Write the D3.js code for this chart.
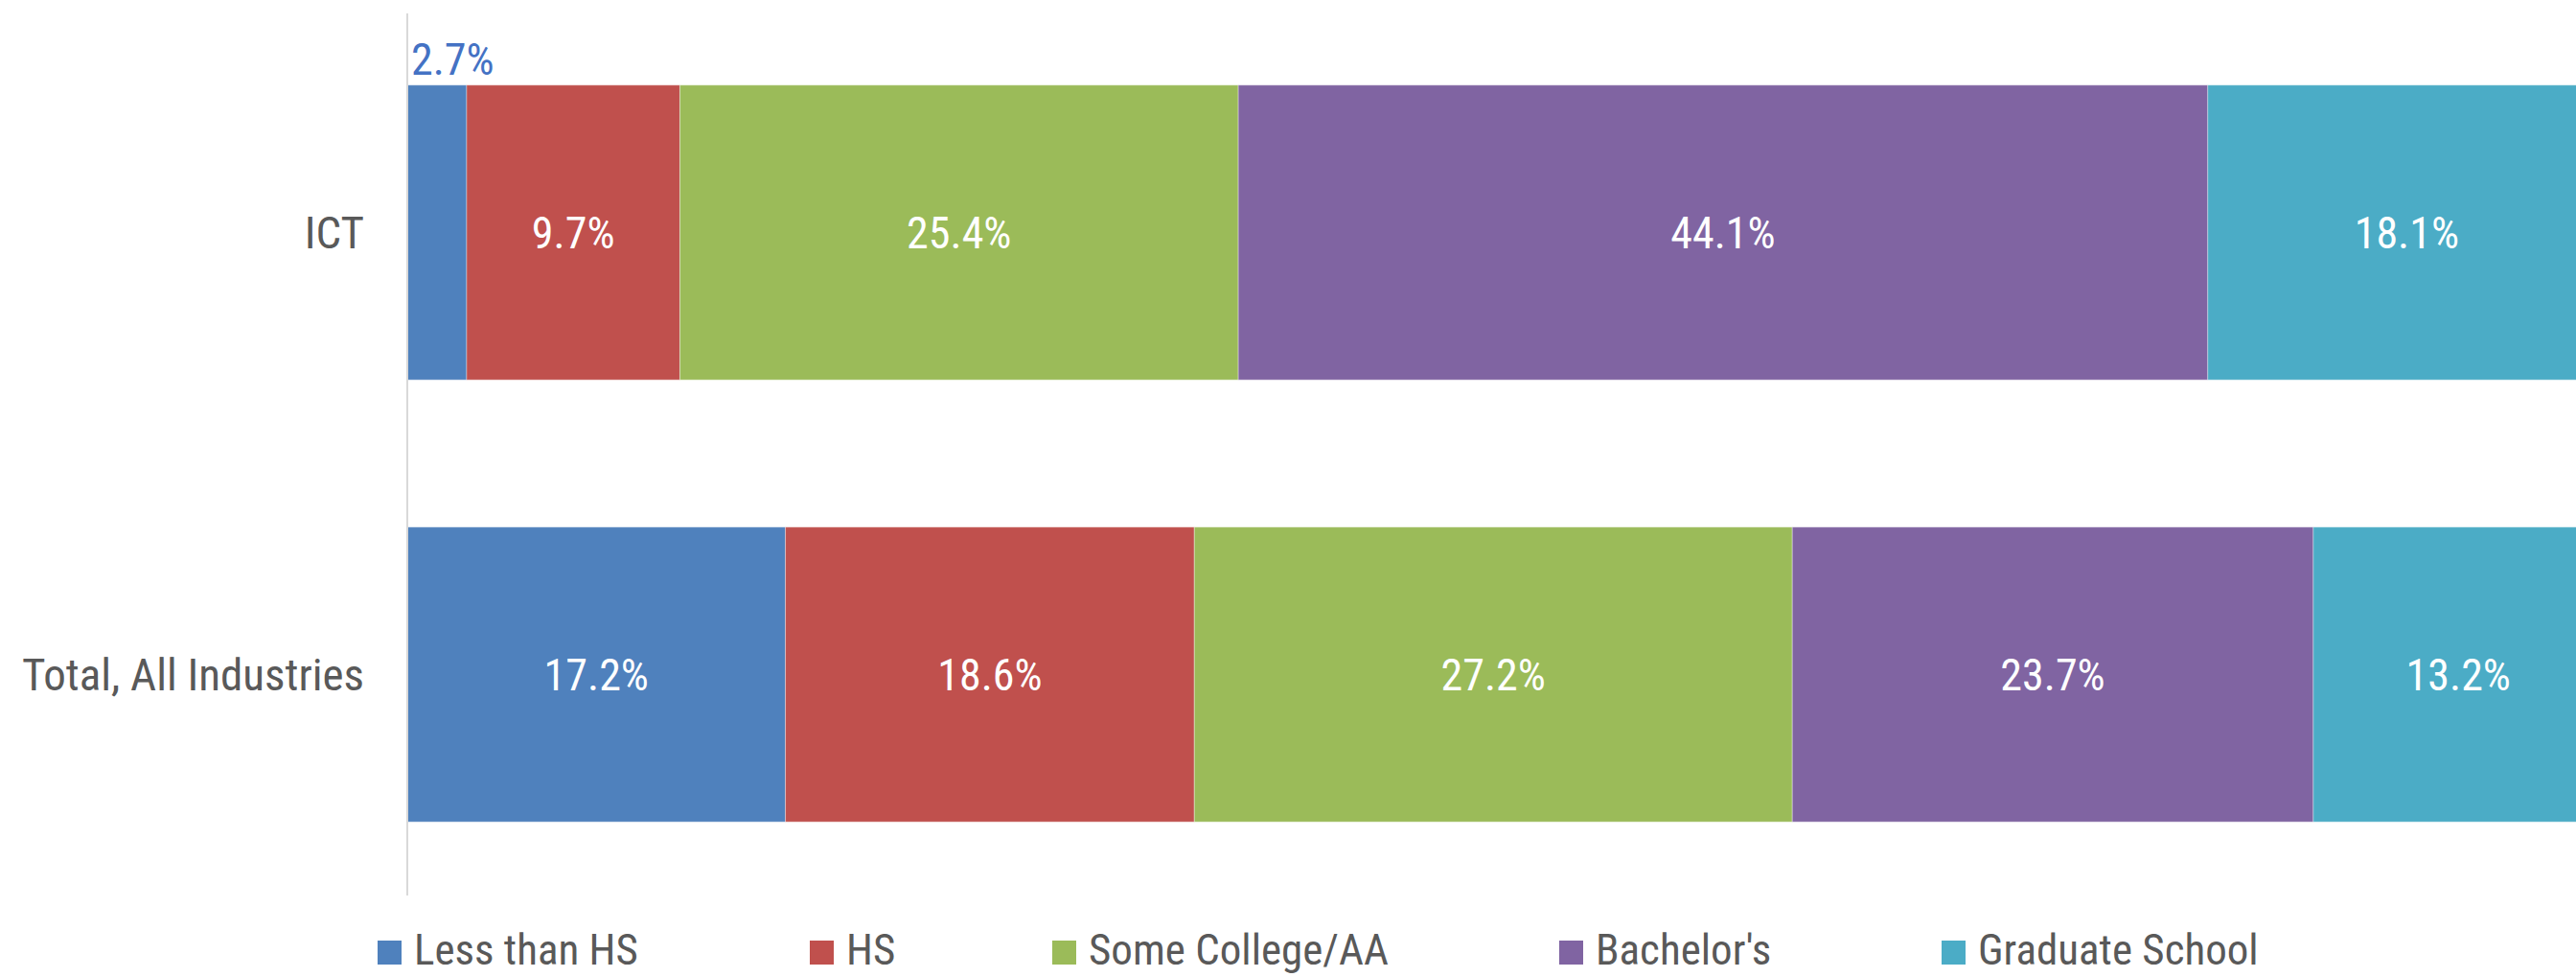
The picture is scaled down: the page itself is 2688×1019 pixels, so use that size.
<!DOCTYPE html>
<html>
<head>
<meta charset="utf-8">
<script src="https://cdn.jsdelivr.net/npm/d3@7/dist/d3.min.js"></script>
<style>
html,body{margin:0;padding:0;background:#fff;overflow:hidden;}
svg{display:block;}
text{font-family:"Liberation Sans Narrow","Arial Narrow","Roboto Condensed","Liberation Sans",sans-serif;}
</style>
</head>
<body>
<svg id="chart" width="2688" height="1019"></svg>
<script>
const categories = ["ICT", "Total, All Industries"];
const seriesNames = ["Less than HS", "HS", "Some College/AA", "Bachelor's", "Graduate School"];
const ictValues = [2.7, 9.7, 25.4, 44.1, 18.1];
const totalValues = [17.2, 18.6, 27.2, 23.7, 13.2];
const seriesColors = ["#4f81bd", "#c0504d", "#9bbb59", "#8064a2", "#4bacc6"];
const legendX = [394, 845, 1098, 1627, 2026];

const svg = d3.select("#chart");

// plot area extends past the right edge of the picture (cropped, as in the reference)
const x = d3.scaleLinear().domain([0, 100]).range([425, 2719]);
const y = d3.scaleBand().domain(categories).range([12, 934]).paddingInner(0.333).paddingOuter(0.1665);

const rows = [
  {cat: categories[0], vals: ictValues},
  {cat: categories[1], vals: totalValues}
];

const segs = [];
rows.forEach(r => {
  let acc = 0;
  r.vals.forEach((v, i) => {
    segs.push({cat: r.cat, i, v, x0: acc, x1: acc + v});
    acc += v;
  });
});

svg.selectAll("rect.seg").data(segs).enter().append("rect")
  .attr("class", "seg")
  .attr("x", d => x(d.x0))
  .attr("y", d => y(d.cat))
  .attr("width", d => x(d.x1) - x(d.x0))
  .attr("height", y.bandwidth())
  .attr("fill", d => seriesColors[d.i])
  .attr("stroke", "rgba(255,255,255,0.35)")
  .attr("stroke-width", 1);

// axis line
svg.append("line")
  .attr("x1", x(0)).attr("x2", x(0))
  .attr("y1", 14).attr("y2", 934)
  .attr("stroke", "#d9d9d9").attr("stroke-width", 2);

// category labels
svg.selectAll("text.cat").data(categories).enter().append("text")
  .attr("class", "cat")
  .attr("x", 380)
  .attr("y", d => y(d) + y.bandwidth() / 2)
  .attr("dy", "0.36em")
  .attr("text-anchor", "end")
  .attr("fill", "#595959")
  .style("font-size", "47px")
  .text(d => d);

// data labels
const small = d => (x(d.x1) - x(d.x0)) < 100;
svg.selectAll("text.lbl").data(segs).enter().append("text")
  .attr("class", "lbl")
  .attr("x", d => small(d) ? x(d.x0) + 4 : (x(d.x0) + x(d.x1)) / 2)
  .attr("y", d => small(d) ? y(d.cat) - 11 : y(d.cat) + y.bandwidth() / 2)
  .attr("dy", d => small(d) ? 0 : "0.36em")
  .attr("text-anchor", d => small(d) ? "start" : "middle")
  .attr("fill", d => small(d) ? "#4472c4" : "#ffffff")
  .style("font-size", "46px")
  .text(d => d.v.toFixed(1) + "%");

// legend
const lg = svg.selectAll("g.lg").data(seriesNames).enter().append("g")
  .attr("class", "lg")
  .attr("transform", (d, i) => `translate(${legendX[i]},0)`);
lg.append("rect").attr("x", 0).attr("y", 981).attr("width", 25).attr("height", 25)
  .attr("fill", (d, i) => seriesColors[i]);
lg.append("text").attr("x", 38).attr("y", 1006)
  .attr("fill", "#595959").style("font-size", "45px")
  .text(d => d);
</script>
</body>
</html>
